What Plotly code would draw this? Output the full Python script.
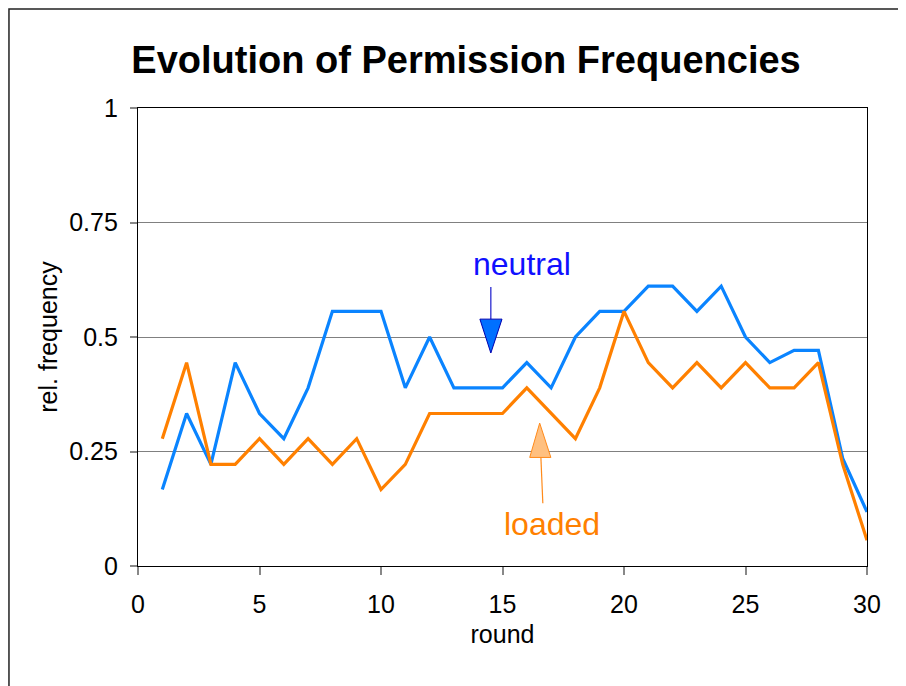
import plotly.graph_objects as go

rounds = list(range(1, 31))
neutral = [0.167, 0.333, 0.222, 0.444, 0.333, 0.278, 0.389, 0.556, 0.556, 0.556,
           0.389, 0.500, 0.389, 0.389, 0.389, 0.444, 0.389, 0.500, 0.556, 0.556,
           0.611, 0.611, 0.556, 0.611, 0.500, 0.444, 0.471, 0.471, 0.235, 0.118]
loaded = [0.278, 0.444, 0.222, 0.222, 0.278, 0.222, 0.278, 0.222, 0.278, 0.167,
          0.222, 0.333, 0.333, 0.333, 0.333, 0.389, 0.333, 0.278, 0.389, 0.556,
          0.444, 0.389, 0.444, 0.389, 0.444, 0.389, 0.389, 0.444, 0.222, 0.056]
x_ticks = [0, 5, 10, 15, 20, 25, 30]
y_ticks = [0, 0.25, 0.5, 0.75, 1]
y_tick_labels = ["0", "0.25", "0.5", "0.75", "1"]

FONT = "Arial, 'Liberation Sans', sans-serif"
BLUE = "#0a84ff"
ORANGE = "#ff8000"

fig = go.Figure()
fig.add_trace(go.Scatter(x=rounds, y=neutral, mode="lines", name="neutral",
                         line=dict(color=BLUE, width=3.2)))
fig.add_trace(go.Scatter(x=rounds, y=loaded, mode="lines", name="loaded",
                         line=dict(color=ORANGE, width=3.2)))

# Arrow decorations (data coordinates)
shapes = [
    dict(type="line", xref="x", yref="y", x0=14.52, y0=0.609, x1=14.52, y1=0.539,
         line=dict(color="#1a1acc", width=1.2)),
    dict(type="path", xref="x", yref="y",
         path="M 14.07 0.539 L 14.98 0.539 L 14.52 0.465 Z",
         fillcolor="#0070ff", line=dict(color="#0000b0", width=1)),
    dict(type="line", xref="x", yref="y", x0=16.58, y0=0.237, x1=16.66, y1=0.137,
         line=dict(color="#ff8a1a", width=1.2)),
    dict(type="path", xref="x", yref="y",
         path="M 16.12 0.237 L 16.99 0.237 L 16.53 0.312 Z",
         fillcolor="#ffc080", line=dict(color="#ff8a1a", width=1)),
    # outer border
    dict(type="rect", xref="paper", yref="paper", x0=-0.177, x1=1.049, y0=-0.31, y1=1.216,
         line=dict(color="#222222", width=1.5), fillcolor="rgba(0,0,0,0)", layer="below"),
]

annotations = [
    dict(text="neutral", x=15.81, y=0.66, xref="x", yref="y", showarrow=False,
         font=dict(family=FONT, size=32, color="#1010ff"), xanchor="center", yanchor="middle"),
    dict(text="loaded", x=17.05, y=0.091, xref="x", yref="y", showarrow=False,
         font=dict(family=FONT, size=32, color=ORANGE), xanchor="center", yanchor="middle"),
]

fig.update_layout(
    width=906, height=686,
    margin=dict(l=130, r=47, t=100, b=128),
    paper_bgcolor="white", plot_bgcolor="white",
    showlegend=False,
    font=dict(family=FONT, color="black"),
    title=dict(text="<b>Evolution of Permission Frequencies</b>", x=0.45, xref="paper",
               y=1 - 52 / 686, yref="container", xanchor="center", yanchor="middle",
               font=dict(family=FONT, size=38, color="black")),
    shapes=shapes,
    annotations=annotations,
)
fig.update_xaxes(range=[0, 30], tickvals=x_ticks, ticks="outside", ticklen=8,
                 tickcolor="#888888", tickwidth=1.5, showline=True, linecolor="black",
                 linewidth=1.2, mirror=True, showgrid=False, zeroline=False,
                 ticklabelstandoff=8,
                 tickfont=dict(family=FONT, size=25, color="black"),
                 title=dict(text="round", font=dict(family=FONT, size=25, color="black"), standoff=8))
fig.update_yaxes(range=[0, 1], tickvals=y_ticks, ticktext=y_tick_labels, ticks="outside",
                 ticklen=7, tickcolor="#888888", tickwidth=1.5, showline=True,
                 linecolor="black", linewidth=1.2, mirror=True, showgrid=True,
                 gridcolor="#808080", gridwidth=1, zeroline=False,
                 ticklabelstandoff=7,
                 tickfont=dict(family=FONT, size=25, color="black"),
                 title=dict(text="rel. frequency", font=dict(family=FONT, size=25, color="black"),
                            standoff=4))

fig.write_html("out.html")
